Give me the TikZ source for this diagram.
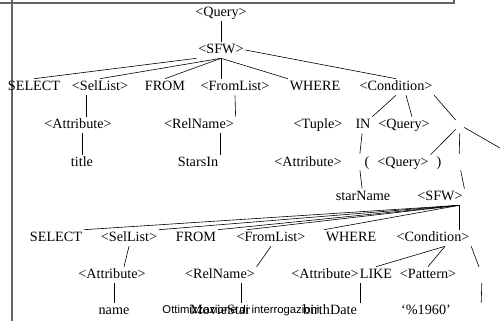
\documentclass[tikz,border=0pt]{standalone}
\usepackage{fontspec}
\setmainfont{Liberation Serif}
\newfontfamily\footfont{Liberation Sans}

\begin{document}
\begin{tikzpicture}[x=1pt,y=-1pt,line width=0.6pt,
  lbl/.style={font=\fontsize{14.2}{16}\selectfont, inner sep=1.5pt, text height=10pt, text depth=3pt},
  hole/.style={inner sep=0pt, minimum width=8pt, minimum height=16pt},
  frame/.style={draw=black!60, line width=1.2pt}]
\useasboundingbox (0,0) rectangle (500,321);
\clip (0,0) rectangle (500,321);

% slide frame
\draw[frame] (0,3) -- (454,3) -- (454,0);
\draw[frame] (12,0) -- (12,321);

% outer query
\node[lbl] (qry) at (221,13) {<Query>};
\node[lbl] (sfw) at (221,50) {<SFW>};

\node[lbl] (sel) at (34,87) {SELECT};
\node[lbl] (sellist) at (100,87) {<SelList>};
\node[lbl] (from) at (165,87) {FROM};
\node[lbl] (fromlist) at (235,87) {<FromList>};
\node[lbl] (where) at (315,87) {WHERE};
\node[lbl] (cond) at (396,87) {<Condition>};

\node[lbl] (attr) at (78,125) {<Attribute>};
\node[lbl] (relname) at (199,125) {<RelName>};
\node[lbl] (tuple) at (318,125) {<Tuple>};
\node[lbl] (in) at (363,125) {IN};
\node[lbl] (qtwo) at (404,125) {<Query>};
\node[hole] (bone) at (460,125) {};

\node[lbl] (title) at (82,163) {title};
\node[lbl] (starsin) at (198,163) {StarsIn};
\node[lbl] (attrtwo) at (308,163) {<Attribute>};
\node[hole] (hm) at (359,162) {};
\node[lbl] (lpar) at (367,163) {(};
\node[lbl] (qthree) at (403,163) {<Query>};
\node[lbl] (rpar) at (439,163) {)};
\node[hole] (btwo) at (459,162) {};
\coordinate (offr) at (500,148);

% inner query
\node[lbl] (starname) at (363,197) {starName};
\node[lbl] (sfwtwo) at (440,197) {<SFW>};

\node[lbl] (seltwo) at (56,238) {SELECT};
\node[lbl] (sellisttwo) at (129,238) {<SelList>};
\node[lbl] (fromtwo) at (196,238) {FROM};
\node[lbl] (fromlisttwo) at (271,238) {<FromList>};
\node[lbl] (wheretwo) at (351,238) {WHERE};
\node[lbl] (condtwo) at (433,238) {<Condition>};

\node[lbl] (attrthree) at (112,275) {<Attribute>};
\node[lbl] (relnametwo) at (220,275) {<RelName>};
\node[lbl] (attrfour) at (325,275) {<Attribute>};
\node[lbl] (like) at (376,275) {LIKE};
\node[lbl] (pattern) at (428,275) {<Pattern>};
\node[hole] (bthree) at (482,275) {};

\node[lbl] (name) at (114,311) {name};
\node[font=\footfont\fontsize{11.3}{13}\selectfont, inner sep=1pt] (foot) at (241,311) {Ottimizzazione di interrogazioni};
\node[lbl] (moviestar) at (220,311) {MovieStar};
\node[lbl] (birth) at (330,311) {birthDate};
\node[lbl] (pct) at (426,311) {`\%1960'};
\node[hole] (bfour) at (481,311) {};

% edges, outer query
\draw (qry) -- (sfw);
\draw (sfw.south west) -- (sel.north);
\draw (sfw.south) -- (sellist.north);
\draw (sfw.south) -- (from.north);
\draw (sfw.south) -- (sfw.south |- fromlist.north);
\draw (sfw.south) -- (where.north west);
\draw (sfw.east) -- (cond.north);
\draw ([xshift=8pt]attr.north) -- ([xshift=8pt]attr.north |- sellist.south);
\draw (title) -- (title |- attr.south);
\draw (fromlist.south) -- (relname.north east);
\draw (starsin.north east) -- (starsin.north east |- relname.south);
\draw (cond.south) -- (in.north east);
\draw ([xshift=10pt]cond.south) -- ([xshift=8pt]qtwo.north);
\draw (cond.south east) -- (bone);
\draw (bone) -- (qthree.north east);
\draw (bone) -- (btwo);
\draw (bone) -- (offr);
\draw (btwo) -- (sfwtwo.north east);
\draw (in) -- (hm);
\draw (hm) -- (starname);

% edges, inner query
\coordinate (fan) at ([xshift=-5pt]sfwtwo.south east);
\draw (fan) -- (seltwo.north east);
\draw (fan) -- (sellisttwo.north east);
\draw (fan) -- (fromtwo.north east);
\draw (fan) -- ([xshift=12pt]fromlisttwo.north west);
\draw (fan) -- (wheretwo.north west);
\draw (fan) -- (fan |- condtwo.north);
\draw (sellisttwo.south) -- ([xshift=12pt]attrthree.north);
\draw (name) -- (name |- attrthree.south);
\draw (fromlisttwo.south) -- (relnametwo.north east);
\draw ([xshift=-10pt]moviestar.north east) -- ([xshift=-10pt]moviestar.north east |- relnametwo.south);
\coordinate (cfork) at ([xshift=12pt]condtwo.south);
\draw (cfork) -- (like.north);
\draw (cfork) -- (pattern.north);
\draw (condtwo.south east) -- (bthree);
\draw (bthree) -- (bfour);
\draw (attrfour.south east) -- (attrfour.south east |- birth.north);
\end{tikzpicture}
\end{document}
